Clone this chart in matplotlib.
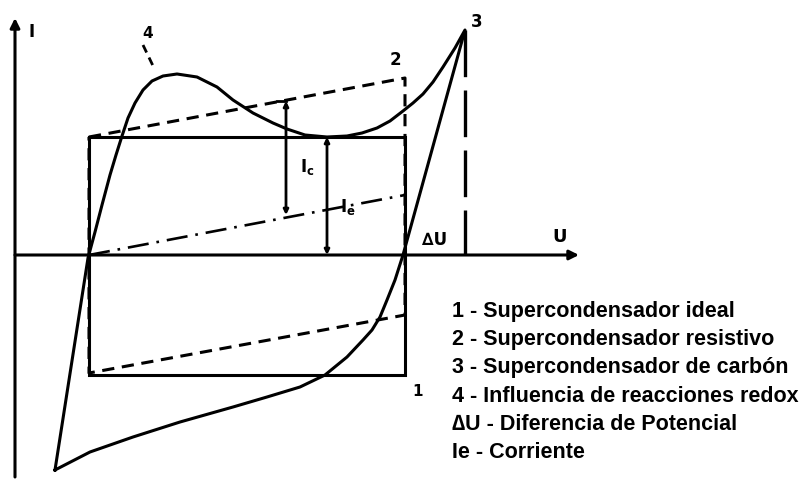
import matplotlib
matplotlib.use("Agg")
import matplotlib.pyplot as plt

# --- diagram data: U (potential) vs I (current), arbitrary units ---
# 1 - ideal supercapacitor (rectangle)
ideal_u = [74, 390, 390, 74, 74]
ideal_i = [118, 118, -120, -120, 118]

# 2 - resistive supercapacitor (parallelogram, dashed)
resist_u = [74, 390, 390, 74, 74]
resist_i = [118, 177, -60, -118, 118]

# mid line of the resistive loop (dash-dot)
mid_u = [74, 390]
mid_i = [0, 60]

# 3/4 - carbon supercapacitor with redox influence (closed loop)
loop_u = [40, 73, 80, 87, 95, 101, 107, 113, 120, 128, 137, 148, 162,
          182, 202, 218, 238, 258, 272, 290, 312, 332, 347, 362, 375,
          388, 398, 408, 418, 428, 440, 450,
          388, 380, 372, 365, 357, 348, 332, 310, 285, 252, 218, 165,
          118, 75, 40]
loop_i = [-215, -3, 23, 50, 80, 100, 119, 137, 152, 165, 174, 179, 181,
          178, 168, 155, 142, 132, 126, 120, 118, 119, 122, 127, 134,
          144, 152, 161, 173, 188, 207, 225,
          0, -25, -45, -62, -75, -85, -102, -120, -132, -142, -152, -167,
          -182, -197, -215]

# peak of curve 3 and voltage drop marker
peak_u, peak_i = 450, 225

# current markers Ic and Ie
ic_u, ic_top, ic_bot = 271, 154, 40
ie_u, ie_top, ie_bot = 312, 118, 0

legend_lines = [
    "1 - Supercondensador ideal",
    "2 - Supercondensador resistivo",
    "3 - Supercondensador de carbón",
    "4 - Influencia de reacciones redox",
    "\u2206U - Diferencia de Potencial",
    "Ie - Corriente",
]

plt.rcParams["mathtext.default"] = "bf"

fig = plt.figure(figsize=(8.05, 4.79), dpi=100)
ax = fig.add_axes([0, 0, 1, 1])
ax.set_xlim(-15, 790)
ax.set_ylim(-224, 255)
ax.axis("off")

lw = 2.2
k = "black"

# axes with arrows
ax.annotate("", xy=(0, 237), xytext=(0, -222),
            arrowprops=dict(arrowstyle="-|>", lw=lw, color=k, mutation_scale=14,
                            shrinkA=0, shrinkB=0))
ax.annotate("", xy=(564, 0), xytext=(0, 0),
            arrowprops=dict(arrowstyle="-|>", lw=lw, color=k, mutation_scale=14,
                            shrinkA=0, shrinkB=0))

# curves
ax.plot(ideal_u, ideal_i, color=k, lw=lw, solid_joinstyle="miter")
ax.plot(resist_u, resist_i, color=k, lw=lw, dashes=(4, 2.5))
ax.plot(mid_u, mid_i, color=k, lw=1.9, dashes=(8, 3, 1, 3))
ax.plot(loop_u, loop_i, color=k, lw=lw, solid_joinstyle="round")

# voltage drop marker (long dashes)
ax.plot([peak_u, peak_u], [peak_i, 0], color=k, lw=2.4, dashes=(14, 4))

# Ic and Ie arrows
for u, top, bot in [(ic_u, ic_top, ic_bot), (ie_u, ie_top, ie_bot)]:
    ax.annotate("", xy=(u, top), xytext=(u, bot),
                arrowprops=dict(arrowstyle="<|-|>", lw=2.0, color=k,
                                mutation_scale=7, shrinkA=0, shrinkB=0))
ax.plot([ic_u - 9, ic_u], [ic_top, ic_top], color=k, lw=2.0)

# leader for curve 4
ax.plot([128, 140], [210, 185], color=k, lw=2.0, dashes=(3, 2))

# handwritten-style labels
lab = dict(color=k, fontweight="bold", fontfamily="DejaVu Sans",
           ha="center", va="center")
ax.text(17, 223, "I", fontsize=12, **lab)
ax.text(545, 18, "U", fontsize=13, **lab)
ax.text(420, 15, "\u2206U", fontsize=12, **lab)
ax.text(133, 222, "4", fontsize=11, **lab)
ax.text(380, 195, "2", fontsize=12, **lab)
ax.text(462, 233, "3", fontsize=12, **lab)
ax.text(403, -137, "1", fontsize=11, **lab)
ax.text(292, 88, "$I_c$", fontsize=12, **lab)
ax.text(333, 48, "$I_e$", fontsize=12, **lab)

# legend block
for n, line in enumerate(legend_lines):
    ax.text(437, -57 - n * 28, line, fontsize=15.5, fontweight="bold",
            family=["Liberation Sans", "DejaVu Sans"], color=k,
            ha="left", va="center")

fig.savefig("out.png", dpi=100)
